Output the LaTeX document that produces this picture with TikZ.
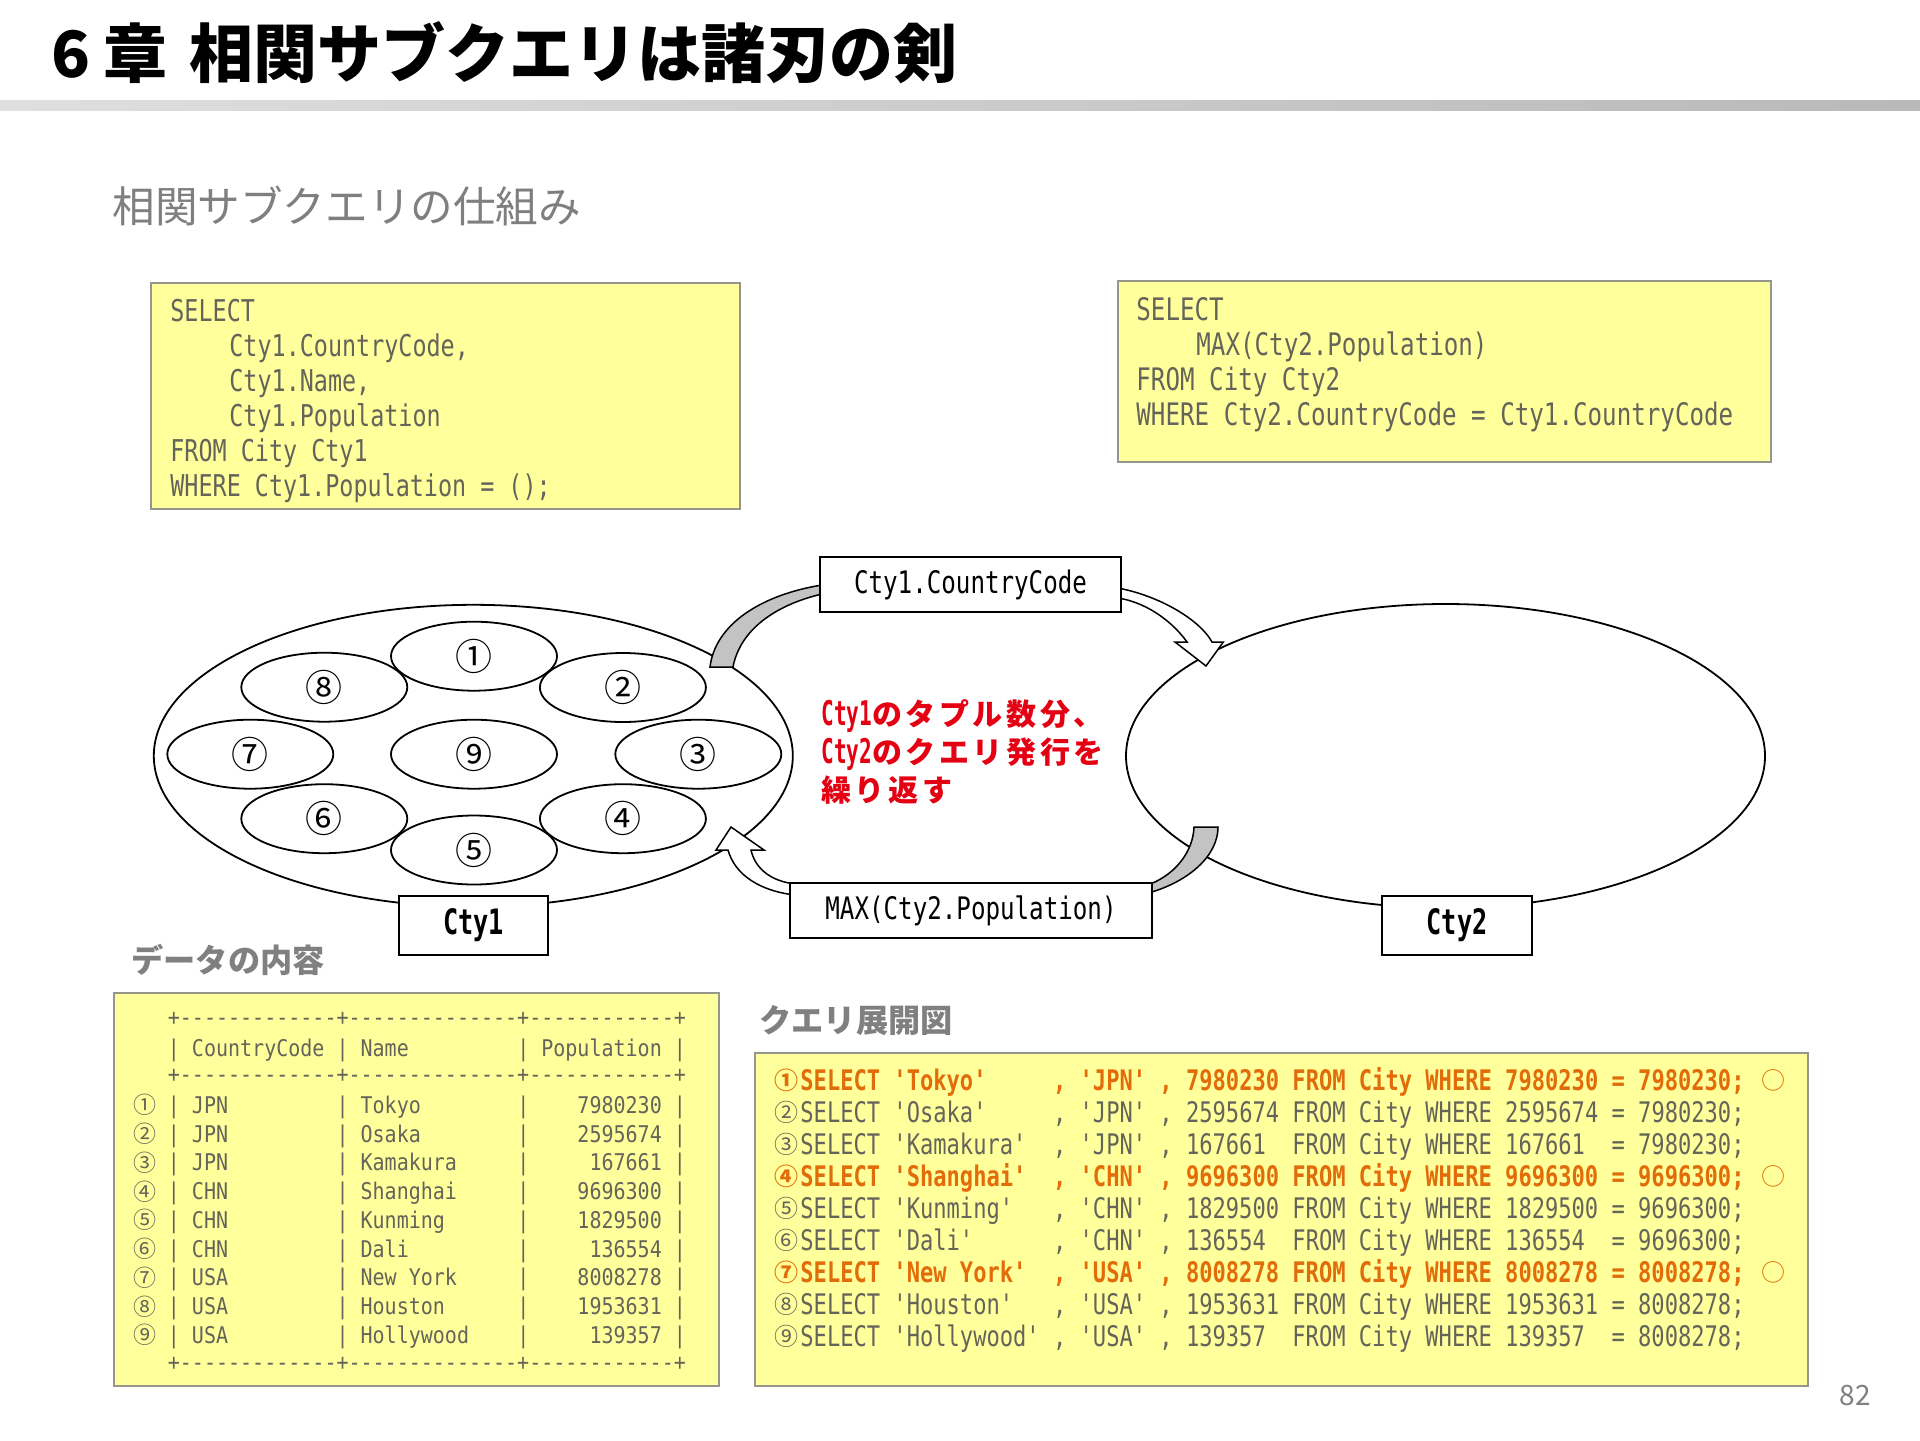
\documentclass[tikz,border=0pt]{standalone}
\usepackage{fontspec}
\usetikzlibrary{shapes.geometric}
\newfontfamily\jp{Noto Sans CJK JP}
\newfontfamily\jpsp[LetterSpace=12]{Noto Sans CJK JP}
\newfontfamily\mono[FakeStretch=0.78]{DejaVu Sans Mono}
\newfontfamily\monot[FakeStretch=0.87]{DejaVu Sans Mono}
\newfontfamily\monoc[FakeStretch=0.72]{DejaVu Sans Mono}
\newfontfamily\monon[FakeStretch=0.62]{DejaVu Sans Mono}
\definecolor{sqlyellow}{RGB}{255,255,155}
\definecolor{boxgray}{RGB}{150,150,140}
\definecolor{sqltext}{RGB}{100,100,90}
\definecolor{subgray}{RGB}{127,127,127}
\definecolor{hdgray}{RGB}{128,128,128}
\definecolor{redtxt}{RGB}{228,0,18}
\definecolor{hiorange}{RGB}{226,108,10}
\definecolor{bandgray}{RGB}{195,195,195}
\newcommand\fixsp{\frenchspacing\setbox0\hbox{0}\fontdimen2\font=\wd0\relax\fontdimen3\font=0pt\relax\fontdimen4\font=0pt\relax}
\newcommand\setmono[1]{\fontsize{#1}{#1}\mono\fixsp}
\newcommand\setmonob[1]{\fontsize{#1}{#1}\mono\bfseries\fixsp}
\newcommand\setmonot[1]{\fontsize{#1}{#1}\monot\fixsp}
\newcommand\dsh[1]{\foreach\ii in {1,...,#1}{-\kern0pt}}
\newcommand\dashrow{+\kern0pt\dsh{13}+\kern0pt\dsh{14}+\kern0pt\dsh{12}+}
\newcommand\redlat[1]{{\fontsize{17}{17}\monon\bfseries #1}}
\newcommand\redjp[1]{{\fontsize{15}{15}\jpsp\bfseries #1}}
\begin{document}
\begin{tikzpicture}[x=0.5pt,y=-0.5pt,
  sqlbox/.style={draw=boxgray,fill=sqlyellow,line width=1pt,rectangle,inner sep=0pt,anchor=north west},
  setell/.style={draw=black,fill=white,ellipse,line width=0.9pt,inner sep=0pt},
  tupell/.style={draw=black,ellipse,line width=0.9pt,inner sep=0pt,minimum width=83pt,minimum height=34.5pt,font={\fontsize{18.5}{18.5}\jp}},
  lblbox/.style={draw=black,fill=white,rectangle,line width=1pt,inner sep=0pt},
  ctybox/.style={lblbox,minimum width=74.75pt,minimum height=29.5pt,font={\fontsize{17.5}{17.5}\monoc\bfseries}},
  txt/.style={anchor=base west,inner sep=0pt},
  num/.style={anchor=center,inner sep=0pt},
  bandg/.style={fill=bandgray,draw=black,line width=0.75pt,line join=miter},
  bandw/.style={fill=white,draw=black,line width=0.75pt,line join=miter},
  sqlA/.style={txt,text=sqltext,font=\setmono{15}},
  sqlB/.style={txt,text=sqltext,font=\setmono{15.5}},
  tab/.style={txt,text=sqltext,font=\setmonot{11.5}},
  tabn/.style={num,text=sqltext,font={\fontsize{11.5}{11.5}\jp}},
  ex/.style={txt,text=sqltext,font=\setmono{14.16}},
  exhi/.style={txt,text=hiorange,font=\setmonob{14.16}},
  exn/.style={num,text=sqltext,font={\fontsize{12}{12}\jp}},
  exnhi/.style={num,text=hiorange,font={\fontsize{12}{12}\jp\bfseries}},
  heading/.style={txt,text=hdgray,font={\fontsize{16.1}{16.1}\jp\bfseries}}
]
\useasboundingbox (0,0) rectangle (1920,1440);
\fill[white] (0,0) rectangle (1920,1440);

% title and bar
\node[txt,font={\fontsize{32}{32}\jp\bfseries}] (title) at (51,77.5) {6\hspace{6.5pt}章\hspace{11pt}相関サブクエリは諸刃の剣};
\shade[left color=gray!25,right color=gray!55] (0,100) rectangle (1920,110);
\node[txt,text=subgray,font={\fontsize{21.3}{21.3}\jp}] (subtitle) at (112,222.5) {相関サブクエリの仕組み};

% SQL boxes
\node[sqlbox,minimum width=294.5pt,minimum height=113pt] (sql1) at (150,282) {};
\node[sqlA] (s1a) at (170,321.7) {SELECT};
\node[sqlA] (s1b) at (229,356.7) {Cty1.CountryCode,};
\node[sqlA] (s1c) at (229,391.7) {Cty1.Name,};
\node[sqlA] (s1d) at (229,426.7) {Cty1.Population};
\node[sqlA] (s1e) at (170,461.7) {FROM City Cty1};
\node[sqlA] (s1f) at (170,496.7) {WHERE Cty1.Population = ();};

\node[sqlbox,minimum width=326.5pt,minimum height=90.5pt] (sql2) at (1117,280) {};
\node[sqlB] (s2a) at (1136,320.5) {SELECT};
\node[sqlB] (s2b) at (1196,355.5) {MAX(Cty2.Population)};
\node[sqlB] (s2c) at (1136,390.5) {FROM City Cty2};
\node[sqlB] (s2d) at (1136,425.5) {WHERE Cty2.CountryCode = Cty1.CountryCode};

% set ellipses
\node[setell,minimum width=319.5pt,minimum height=151pt] (cty1set) at (473.3,755.8) {};
\node[setell,minimum width=319.5pt,minimum height=152pt] (cty2set) at (1445.5,756) {};
\node[tupell] (t1) at (474,656.2) {①};
\node[tupell] (t2) at (622.9,687.5) {②};
\node[tupell] (t3) at (698.3,754.2) {③};
\node[tupell] (t4) at (622.9,818.7) {④};
\node[tupell] (t5) at (474,850) {⑤};
\node[tupell] (t6) at (324.3,818.7) {⑥};
\node[tupell] (t7) at (250.3,754.2) {⑦};
\node[tupell] (t8) at (324.3,687.2) {⑧};
\node[tupell] (t9) at (474,754.2) {⑨};

% circular block arrows
\draw[bandg] (710,667) .. controls (715,625) and (760,595) .. (822,585) -- (822,594) .. controls (775,605) and (740,630) .. (733,667) -- cycle;
\draw[bandw] (1118,588) .. controls (1160,596) and (1200,620) .. (1212,642) -- (1223.3,642) -- (1206,666) -- (1175,642) -- (1187,642) .. controls (1175,625) and (1150,603) .. (1118,598) -- cycle;
\draw[bandg] (1194,827) -- (1218,827) .. controls (1218,855) and (1190,882) .. (1145,894) -- (1145,886) .. controls (1175,876) and (1193,852) .. (1194,827) -- cycle;
\draw[bandw] (795,884) .. controls (770,881) and (755,868) .. (751,850) -- (764,850) -- (731,827) -- (716,850) -- (728,850) .. controls (735,875) and (760,891) .. (795,895) -- cycle;

% label boxes
\node[lblbox,minimum width=150.5pt,minimum height=27.5pt,font=\setmono{15.5}] (ccbox) at (970.5,584.5) {Cty1.CountryCode};
\node[lblbox,minimum width=180.8pt,minimum height=27.5pt,font=\setmono{15.5}] (maxbox) at (971,910.5) {MAX(Cty2.Population)};
\node[ctybox] (cty1box) at (473.7,925.5) {Cty1};
\node[ctybox,minimum width=75pt] (cty2box) at (1457,925.5) {Cty2};

% red note
\node[txt,text=redtxt] (note1) at (821,725) {\redlat{Cty1}\redjp{のタプル数分、}};
\node[txt,text=redtxt] (note2) at (821,763) {\redlat{Cty2}\redjp{のクエリ発行を}};
\node[txt,text=redtxt] (note3) at (821,801) {\redjp{繰り返す}};

% headings
\node[heading] (hdata) at (131,972) {データの内容};
\node[heading] (hquery) at (759,1032) {クエリ展開図};

% data table
\node[sqlbox,minimum width=302.5pt,minimum height=196.5pt] (tbl) at (113,992) {};
\node[tab] (td1) at (167.5,1025) {\dashrow};
\node[tab] (thd) at (167.5,1056.7) {|~CountryCode~|~Name~~~~~~~~~|~Population~|};
\node[tab] (td2) at (167.5,1082) {\dashrow};
\node[tab] (tr1) at (167.5,1113.3) {|~JPN~~~~~~~~~|~Tokyo~~~~~~~~|~~~~7980230~|};
\node[tab] (tr2) at (167.5,1142.05) {|~JPN~~~~~~~~~|~Osaka~~~~~~~~|~~~~2595674~|};
\node[tab] (tr3) at (167.5,1170.8) {|~JPN~~~~~~~~~|~Kamakura~~~~~|~~~~~167661~|};
\node[tab] (tr4) at (167.5,1199.55) {|~CHN~~~~~~~~~|~Shanghai~~~~~|~~~~9696300~|};
\node[tab] (tr5) at (167.5,1228.3) {|~CHN~~~~~~~~~|~Kunming~~~~~~|~~~~1829500~|};
\node[tab] (tr6) at (167.5,1257.05) {|~CHN~~~~~~~~~|~Dali~~~~~~~~~|~~~~~136554~|};
\node[tab] (tr7) at (167.5,1285.8) {|~USA~~~~~~~~~|~New~York~~~~~|~~~~8008278~|};
\node[tab] (tr8) at (167.5,1314.55) {|~USA~~~~~~~~~|~Houston~~~~~~|~~~~1953631~|};
\node[tab] (tr9) at (167.5,1343.3) {|~USA~~~~~~~~~|~Hollywood~~~~|~~~~~139357~|};
\node[tab] (td3) at (167.5,1370) {\dashrow};
\node[tabn] (tn1) at (145,1105) {①};
\node[tabn] (tn2) at (145,1133.75) {②};
\node[tabn] (tn3) at (145,1162.5) {③};
\node[tabn] (tn4) at (145,1191.25) {④};
\node[tabn] (tn5) at (145,1220) {⑤};
\node[tabn] (tn6) at (145,1248.75) {⑥};
\node[tabn] (tn7) at (145,1277.5) {⑦};
\node[tabn] (tn8) at (145,1306.25) {⑧};
\node[tabn] (tn9) at (145,1335) {⑨};

% query expansion
\node[sqlbox,minimum width=526.25pt,minimum height=166.5pt] (exp) at (754,1052) {};
\node[exhi] (e1) at (800,1090.3) {SELECT~'Tokyo'~~~~~,~'JPN'~,~7980230~FROM~City~WHERE~7980230~=~7980230;};
\node[ex] (e2) at (800,1122.3) {SELECT~'Osaka'~~~~~,~'JPN'~,~2595674~FROM~City~WHERE~2595674~=~7980230;};
\node[ex] (e3) at (800,1154.3) {SELECT~'Kamakura'~~,~'JPN'~,~167661~~FROM~City~WHERE~167661~~=~7980230;};
\node[exhi] (e4) at (800,1186.3) {SELECT~'Shanghai'~~,~'CHN'~,~9696300~FROM~City~WHERE~9696300~=~9696300;};
\node[ex] (e5) at (800,1218.3) {SELECT~'Kunming'~~~,~'CHN'~,~1829500~FROM~City~WHERE~1829500~=~9696300;};
\node[ex] (e6) at (800,1250.3) {SELECT~'Dali'~~~~~~,~'CHN'~,~136554~~FROM~City~WHERE~136554~~=~9696300;};
\node[exhi] (e7) at (800,1282.3) {SELECT~'New~York'~~,~'USA'~,~8008278~FROM~City~WHERE~8008278~=~8008278;};
\node[ex] (e8) at (800,1314.3) {SELECT~'Houston'~~~,~'USA'~,~1953631~FROM~City~WHERE~1953631~=~8008278;};
\node[ex] (e9) at (800,1346.3) {SELECT~'Hollywood'~,~'USA'~,~139357~~FROM~City~WHERE~139357~~=~8008278;};
\node[exnhi] (en1) at (786,1080) {①};
\node[exn] (en2) at (786,1112) {②};
\node[exn] (en3) at (786,1144) {③};
\node[exnhi] (en4) at (786,1176) {④};
\node[exn] (en5) at (786,1208) {⑤};
\node[exn] (en6) at (786,1240) {⑥};
\node[exnhi] (en7) at (786,1272) {⑦};
\node[exn] (en8) at (786,1304) {⑧};
\node[exn] (en9) at (786,1336) {⑨};
\node[num,text=hiorange,font={\fontsize{12}{12}\jp}] (ok1) at (1773,1080) {○};
\node[num,text=hiorange,font={\fontsize{12}{12}\jp}] (ok4) at (1773,1176) {○};
\node[num,text=hiorange,font={\fontsize{12}{12}\jp}] (ok7) at (1773,1272) {○};

% page number
\node[anchor=base east,inner sep=0pt,text=subgray,font={\fontsize{14}{14}\jp}] (page) at (1871,1405) {82};
\end{tikzpicture}
\end{document}
